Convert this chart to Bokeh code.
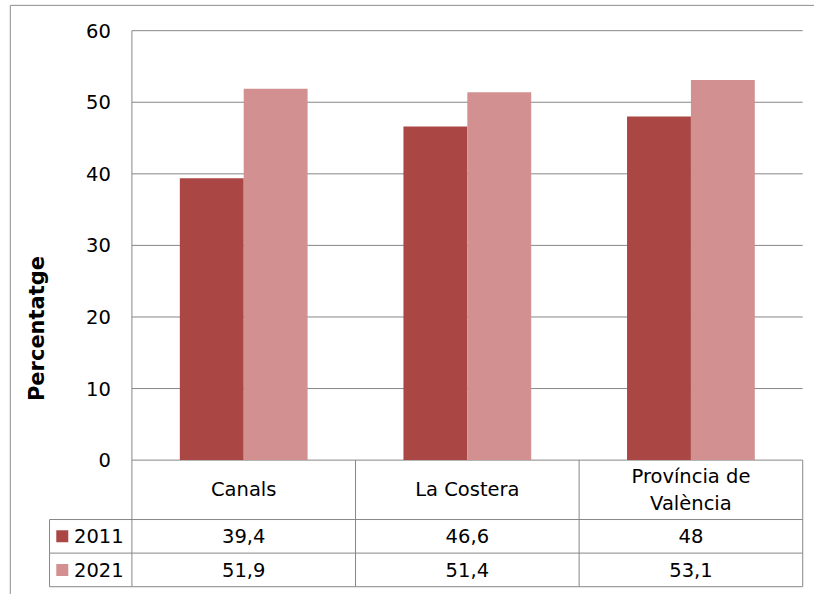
from bokeh.plotting import figure
from bokeh.models import Range1d, FixedTicker, LinearAxis
from bokeh.core.properties import value
from bokeh.embed import file_html
from bokeh.resources import INLINE

# ---------------- data ----------------
categories = ["Canals", "La Costera", "Província de\nValència"]
years = ["2011", "2021"]
values_2011 = [39.4, 46.6, 48.0]
values_2021 = [51.9, 51.4, 53.1]
y_ticks = [0, 10, 20, 30, 40, 50, 60]
y_label = "Percentatge"

# ---------------- style / layout ----------------
COLORS = {"2011": "#AA4744", "2021": "#D29190"}
FONT = "DejaVu Sans"
FS = "19.5px"
GRAY = "#878787"
BORDER = "#8e8e8e"

W, H = 814, 594                 # figure size (layout below is in a 830x610 design grid)
DES_W, DES_H = 830, 610
AXIS_X, CAT_W, LEG_LEFT = 134, 228, 50
TOP_Y, ZERO_Y = 31, 472
ROW_EDGES = [533, 567.5, 602]
BORDER_X, BORDER_Y = 10, 5
TITLE_SPAN = (64, 610)          # vertical span on which the axis title is centred
Y_MAX = 60
UNIT = (ZERO_Y - TOP_Y) / Y_MAX


def fx(px):
    return (px - AXIS_X) / CAT_W


def fy(py):
    return (ZERO_Y - py) / UNIT


n = len(categories)

p = figure(width=W, height=H, output_backend="svg", toolbar_location=None,
           x_range=Range1d(fx(0), fx(DES_W)), y_range=Range1d(fy(DES_H), fy(0)),
           x_axis_location=None,
           min_border_left=0, min_border_right=0, min_border_top=0, min_border_bottom=0,
           background_fill_color="white", border_fill_color="white")
p.outline_line_color = None
p.xgrid.visible = False
p.ygrid.visible = False

r1, r2, r3 = [fy(v) for v in ROW_EDGES]

# y axis (tick labels) drawn at x = 0, the left edge of the plot area
ax = p.yaxis[0]
ax.fixed_location = 0
ax.ticker = FixedTicker(ticks=y_ticks)
ax.major_tick_out = 0
ax.major_tick_in = 0
ax.minor_tick_line_color = None
ax.axis_line_color = None
ax.major_label_standoff = 21
ax.major_label_text_font = FONT
ax.major_label_text_font_size = FS
ax.major_label_text_color = "black"

# axis title
ttl = LinearAxis(fixed_location=0, ticker=FixedTicker(ticks=[]),
                 bounds=(fy(TITLE_SPAN[1]), fy(TITLE_SPAN[0])),
                 axis_line_color=None, major_tick_out=0, major_tick_in=0,
                 minor_tick_line_color=None,
                 axis_label=y_label, axis_label_text_font=FONT,
                 axis_label_text_font_size="21px", axis_label_text_font_style="bold",
                 axis_label_text_color="black", axis_label_standoff=83)
p.add_layout(ttl, "left")

# outer chart border (left and top edges are visible)
bx, by = fx(BORDER_X), fy(BORDER_Y)
p.segment(x0=[bx, bx], y0=[by, by], x1=[fx(DES_W), bx], y1=[by, fy(DES_H)],
          line_color=BORDER, line_width=1)

# gridlines
p.segment(x0=[0] * len(y_ticks), x1=[n] * len(y_ticks), y0=y_ticks, y1=y_ticks,
          line_color=GRAY, line_width=1)

# bars (gap width 150%)
xs = [i + 0.5 for i in range(n)]
bar_w = 1 / 3.5
for k, (yr, vals) in enumerate(zip(years, [values_2011, values_2021])):
    off = (k - 0.5) * bar_w
    p.vbar(x=[x + off for x in xs], top=vals, bottom=0, width=bar_w,
           fill_color=COLORS[yr], line_color=None)

# vertical axis line, continuing down through the table
p.segment(x0=[0], x1=[0], y0=[Y_MAX], y1=[r3], line_color=GRAY, line_width=1)

# ---------------- data table ----------------
xl = fx(LEG_LEFT)
p.segment(x0=[xl, xl, xl], x1=[n, n, n], y0=[r1, r2, r3], y1=[r1, r2, r3],
          line_color=GRAY, line_width=1)
vx = list(range(1, n + 1))
p.segment(x0=vx, x1=vx, y0=[0] * len(vx), y1=[r3] * len(vx), line_color=GRAY, line_width=1)
p.segment(x0=[xl], x1=[xl], y0=[r1], y1=[r3], line_color=GRAY, line_width=1)

p.text(x=xs, y=[r1 / 2] * n, text=categories, text_font=value(FONT),
       text_font_size=FS, text_align="center", text_baseline="middle",
       text_line_height=1.15, text_color="black")


def fmt(v):
    return f"{v:g}".replace(".", ",")


row_centers = [(r1 + r2) / 2, (r2 + r3) / 2]
for yr, vals, yc in zip(years, [values_2011, values_2021], row_centers):
    p.text(x=xs, y=[yc] * n, text=[fmt(v) for v in vals], text_font=value(FONT),
           text_font_size=FS, text_align="center", text_baseline="middle",
           text_color="black")
    p.scatter(x=[fx(LEG_LEFT + 13)], y=[yc], marker="square", size=12,
              fill_color=COLORS[yr], line_color=None)
    p.text(x=[fx(LEG_LEFT + 25)], y=[yc], text=[yr], text_font=value(FONT),
           text_font_size=FS, text_align="left", text_baseline="middle",
           text_color="black")

open("out.html", "w").write(file_html(p, INLINE))
